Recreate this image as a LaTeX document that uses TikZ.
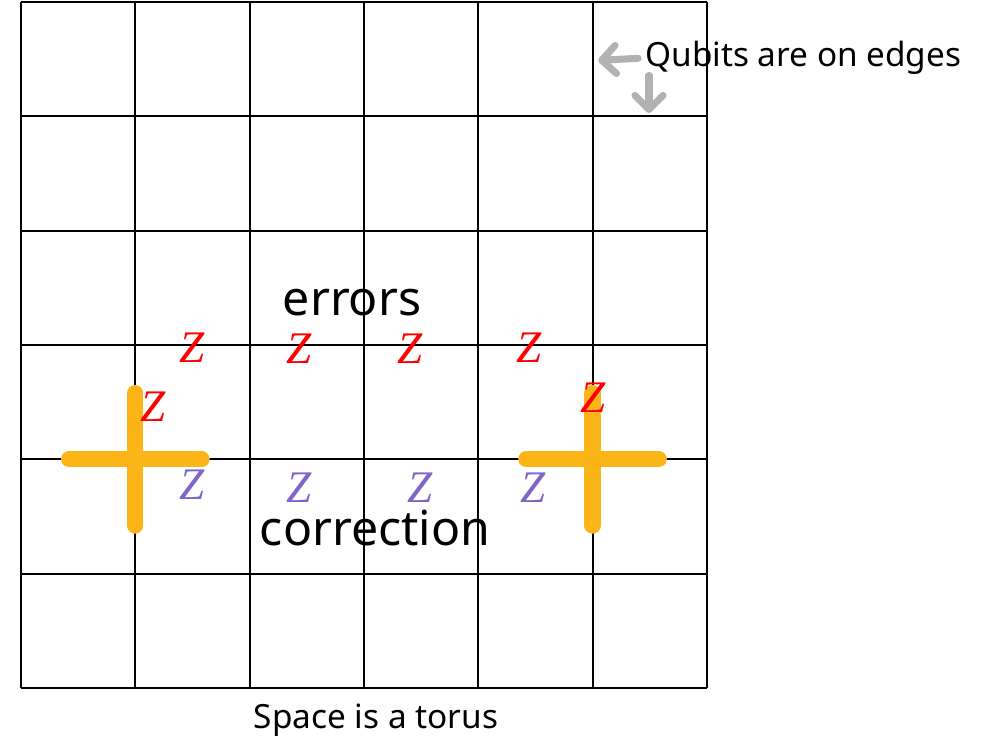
\documentclass[tikz,border=0pt]{standalone}
\usepackage{fontspec}
\setmainfont{Noto Sans}
\newfontfamily\zfont{Liberation Serif}
\usepackage{tikz}
\usetikzlibrary{arrows.meta,calc,positioning}
\usepackage{xcolor}
\definecolor{errred}{RGB}{255,0,0}
\definecolor{corpurple}{RGB}{128,100,200}
\definecolor{stabgold}{RGB}{251,181,23}
\definecolor{ptrgray}{RGB}{178,178,178}

\begin{document}
\begin{tikzpicture}[x=2cm,y=2cm,
  gridln/.style={draw=black,line width=1pt},
  stab/.style={draw=stabgold,line width=8pt,line cap=round},
  ptr/.style={draw=ptrgray,line width=3.5pt,line cap=round,
              -{Straight Barb[length=7pt,width=14pt,line cap=round,round]}},
  zerr/.style={inner sep=0pt,text=errred,font=\fontsize{22.5}{22.5}\selectfont\zfont\itshape},
  zcor/.style={zerr,text=corpurple},
  big/.style={inner sep=0pt,anchor=base,font=\fontsize{24}{24}\selectfont},
  note/.style={inner sep=0pt,font=\fontsize{16.6}{16.6}\selectfont},
]
\useasboundingbox (-0.184,-0.464) rectangle (8.495,6.019);

% Lattice (6x6 cells)
\draw[gridln,step=1] (0,0) grid (6,6);

% Stabilizer crosses
\coordinate (sL) at (1,2);
\coordinate (sR) at (5,2);
\draw[stab] (sL) +(-0.58,0) -- +(0.58,0) +(0,-0.58) -- +(0,0.58);
\draw[stab] (sR) +(-0.58,0) -- +(0.58,0) +(0,-0.58) -- +(0,0.58);

% Error chain
\node[zerr] (e1) at (1.496,2.975) {Z};
\node[zerr] (e2) at (2.432,2.966) {Z};
\node[zerr] (e3) at (3.403,2.966) {Z};
\node[zerr] (e4) at (4.444,2.975) {Z};
\node[zerr] (e5) at (1.155,2.458) {Z};
\node[zerr] (e6) at (5.004,2.537) {Z};

% Correction chain
\node[zcor] (c1) at (1.496,1.776) {Z};
\node[zcor] (c2) at (2.432,1.750) {Z};
\node[zcor] (c3) at (3.491,1.750) {Z};
\node[zcor] (c4) at (4.479,1.750) {Z};

\node[big] (errlbl) at (2.896,3.263) {errors};
\node[big] (corlbl) at (3.097,1.242) {correction};
\node[note,anchor=base] (torus) at (3.106,-0.359) {Space is a torus};

% Qubit pointers
\node[note,anchor=base west] (qubits) at (5.459,5.433) {Qubits are on edges};
\coordinate (qv) at (5.05,5.49);
\coordinate (qh) at (5.494,5.03);
\draw[ptr] ($(qubits.west)+(-0.06,0.0)$) -- (qv);
\draw[ptr] ($(qubits.west)+(0.035,-0.15)$) -- (qh);
\end{tikzpicture}
\end{document}
